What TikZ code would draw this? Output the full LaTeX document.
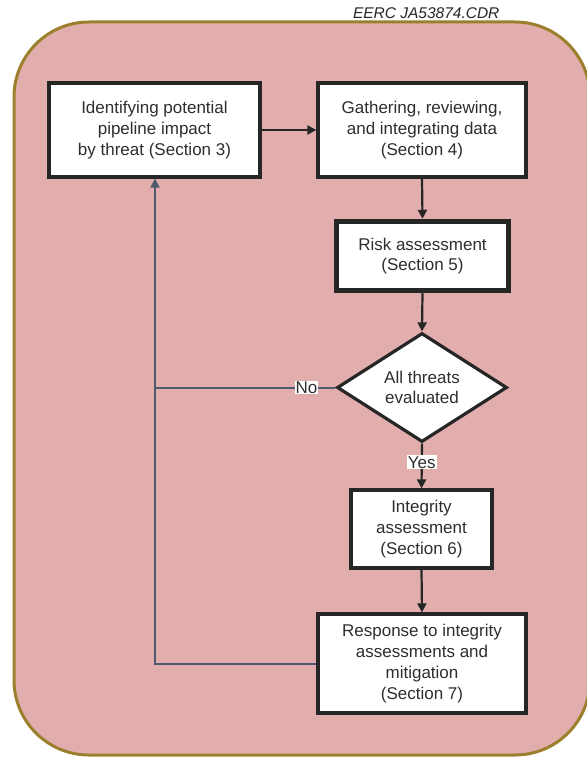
\documentclass[tikz,border=0pt]{standalone}
\usepackage{fontspec}
\setmainfont{Liberation Sans}
\usetikzlibrary{shapes.geometric,arrows.meta}
\definecolor{bgfill}{HTML}{E2AEAD}
\definecolor{bgborder}{HTML}{9C7F2C}
\definecolor{txt}{HTML}{2E2E2E}
\definecolor{fbline}{HTML}{4E5A6E}
\tikzset{
  stepbox/.style={draw=black!85,line width=3.2pt,fill=white,align=center,
    font=\fontsize{17}{20.8}\selectfont,text=txt,inner sep=0pt},
  conn/.style={draw=black!85,line width=2.2pt,-{Triangle[length=9pt,width=9pt]}},
  fb/.style={draw=fbline,line width=2pt},
  lbl/.style={fill=white,inner sep=1pt,font=\fontsize{17}{19}\selectfont,text=txt}
}
\begin{document}
\begin{tikzpicture}[x=1pt,y=-1pt]
\useasboundingbox (0,0) rectangle (586,757);
\draw[bgborder,line width=3pt,fill=bgfill,rounded corners=75pt] (14,22) rectangle (590,755);
\node[font=\itshape\fontsize{15.5}{17}\selectfont,anchor=east,text=black!85] (code) at (503,13) {EERC JA53874.CDR};

\node[stepbox,minimum width=211pt,minimum height=94pt] (b1) at (154.5,130)
  {Identifying potential\\pipeline impact\\by threat (Section 3)};
\node[stepbox,minimum width=208pt,minimum height=94pt] (b2) at (422,130)
  {Gathering, reviewing,\\and integrating data\\(Section 4)};
\node[stepbox,line width=5.5pt,minimum width=172pt,minimum height=69pt] (b3) at (422.5,256)
  {Risk assessment\\(Section 5)};
\node[stepbox,shape=diamond,minimum width=170pt,minimum height=109pt] (d) at (422,387.5)
  {All threats\\evaluated};
\node[stepbox,minimum width=141pt,minimum height=78pt] (b4) at (421.5,529)
  {Integrity\\assessment\\(Section 6)};
\node[stepbox,minimum width=208pt,minimum height=99pt] (b5) at (422,663.5)
  {Response to integrity\\assessments and\\mitigation\\(Section 7)};

\draw[conn] (b1.east) -- (b2.west);
\draw[conn] (b2.south) -- (b3.north);
\draw[conn] (b3.south) -- (d.north);
\draw[conn] (d.south) -- node[lbl,pos=0.42] (yes) {Yes} (b4.north);
\draw[conn] (b4.south) -- (b5.north);

\coordinate (c1) at (155,663.5);
\draw[fb,-{Triangle[length=9pt,width=9pt]}] (b5.west) -- (c1) -- (c1 |- b1.south);
\draw[fb] (d.west) -- node[lbl,pos=0.16] (no) {No} (c1 |- d.west);
\end{tikzpicture}
\end{document}
